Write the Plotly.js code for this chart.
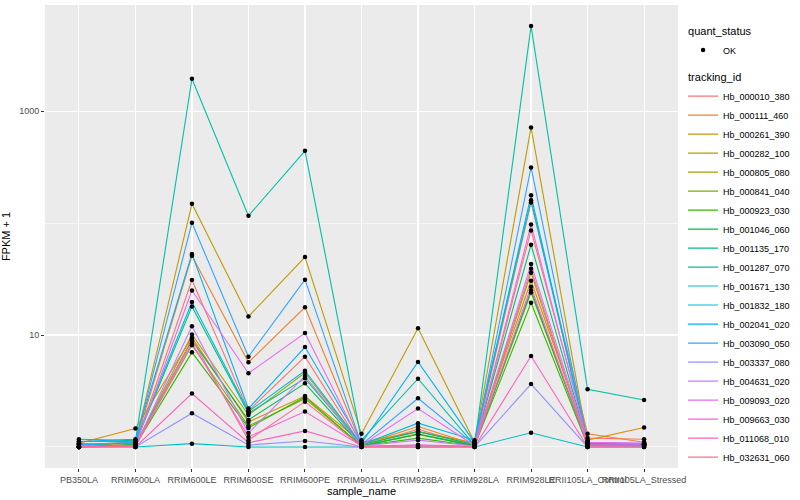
<!DOCTYPE html>
<html>
<head>
<meta charset="utf-8">
<script src="https://cdn.plot.ly/plotly-3.0.1.min.js"></script>
<style>html,body{margin:0;padding:0;background:#fff}#chart{width:800px;height:500px}</style>
</head>
<body>
<div id="chart"></div>
<script>
// sample order on the x axis
const samples = ["PB350LA","RRIM600LA","RRIM600LE","RRIM600SE","RRIM600PE","RRIM901LA","RRIM928BA","RRIM928LA","RRIM928LE","RRII105LA_Control","RRII105LA_Stressed"];

const trackingIds = ["Hb_000010_380","Hb_000111_460","Hb_000261_390","Hb_000282_100","Hb_000805_080","Hb_000841_040","Hb_000923_030","Hb_001046_060","Hb_001135_170","Hb_001287_070","Hb_001671_130","Hb_001832_180","Hb_002041_020","Hb_003090_050","Hb_003337_080","Hb_004631_020","Hb_009093_020","Hb_009663_030","Hb_011068_010","Hb_032631_060"];

const colors = ["#F8766D","#EA8331","#D89000","#C09B00","#A3A500","#7CAE00","#39B600","#00BB4E","#00BF7D","#00C1A3","#00BFC4","#00BAE0","#00B0F6","#35A2FF","#9590FF","#C77CFF","#E76BF3","#FA62DB","#FF62BC","#FF6C91"];

// FPKM + 1 per tracking_id, in sample order
const hb_000010_380 = [1.00, 1.05, 31.0, 2.10, 6.40, 1.02, 1.44, 1.02, 86.0, 1.20, 1.17];
const hb_000111_460 = [1.02, 1.08, 51.0, 5.70, 17.7, 1.05, 1.52, 1.05, 153, 1.31, 1.10];
const hb_000261_390 = [1.08, 1.46, 9.50, 1.67, 2.85, 1.10, 1.37, 1.09, 30.5, 1.15, 1.49];
const hb_000282_100 = [1.05, 1.10, 148.6, 14.6, 49.7, 1.31, 11.5, 1.10, 715, 1.10, 1.05];
const hb_000805_080 = [1.00, 1.05, 10.1, 1.93, 4.60, 1.03, 1.31, 1.03, 36.0, 1.05, 1.04];
const hb_000841_040 = [1.00, 1.04, 8.10, 1.54, 2.70, 1.02, 1.29, 1.02, 24.0, 1.04, 1.03];
const hb_000923_030 = [1.00, 1.03, 7.00, 1.48, 2.80, 1.02, 1.20, 1.02, 19.4, 1.03, 1.02];
const hb_001046_060 = [1.00, 1.05, 9.00, 1.74, 3.70, 1.02, 1.30, 1.03, 25.0, 1.05, 1.05];
const hb_001135_170 = [1.04, 1.09, 18.0, 2.00, 4.10, 1.05, 1.37, 1.05, 64.0, 1.08, 1.06];
const hb_001287_070 = [1.17, 1.14, 1945, 116, 442, 1.15, 4.07, 1.04, 5750, 3.27, 2.63];
const hb_001671_130 = [1.08, 1.00, 1.07, 1.00, 1.00, 1.00, 1.00, 1.00, 1.34, 1.00, 1.00];
const hb_001832_180 = [1.12, 1.12, 19.7, 2.07, 4.80, 1.05, 1.63, 1.15, 160, 1.10, 1.05];
const hb_002041_020 = [1.12, 1.17, 53.0, 2.20, 7.80, 1.08, 5.74, 1.10, 177, 1.08, 1.05];
const hb_003090_050 = [1.05, 1.10, 100.5, 6.40, 31.2, 1.05, 2.72, 1.05, 314, 1.10, 1.05];
const hb_003337_080 = [1.00, 1.00, 2.00, 1.04, 1.13, 1.00, 1.04, 1.00, 3.65, 1.00, 1.00];
const hb_004631_020 = [1.00, 1.02, 12.0, 1.33, 4.30, 1.02, 1.15, 1.02, 43.0, 1.10, 1.08];
const hb_009093_020 = [1.00, 1.03, 25.0, 4.55, 10.4, 1.03, 2.20, 1.03, 97.0, 1.10, 1.08];
const hb_009663_030 = [1.00, 1.02, 8.50, 1.23, 2.07, 1.02, 1.04, 1.02, 27.0, 1.05, 1.04];
const hb_011068_010 = [1.00, 1.00, 3.00, 1.09, 1.39, 1.00, 1.00, 1.00, 6.50, 1.00, 1.00];
const hb_032631_060 = [1.00, 1.01, 9.20, 1.15, 2.54, 1.01, 1.00, 1.01, 39.0, 1.02, 1.02];

const seriesValues = [hb_000010_380, hb_000111_460, hb_000261_390, hb_000282_100, hb_000805_080, hb_000841_040, hb_000923_030, hb_001046_060, hb_001135_170, hb_001287_070, hb_001671_130, hb_001832_180, hb_002041_020, hb_003090_050, hb_003337_080, hb_004631_020, hb_009093_020, hb_009663_030, hb_011068_010, hb_032631_060];

const yTickVals = [10, 1000];
const yTickText = ["10", "1000"];
const yMinorVals = [1, 100];

const traces = [];
trackingIds.forEach((id, i) => {
  traces.push({
    type: "scatter", mode: "lines", x: samples, y: seriesValues[i], name: id,
    line: {color: colors[i], width: 1.1},
    legendgroup: "tid",
    legendgrouptitle: {text: "tracking_id", font: {size: 11, color: "#000"}},
    legendrank: 100 + i, hoverinfo: "skip"
  });
});
const px = [], py = [];
seriesValues.forEach(vals => vals.forEach((v, j) => { px.push(samples[j]); py.push(v); }));
traces.push({
  type: "scatter", mode: "markers", x: px, y: py, name: "OK",
  marker: {color: "#000", size: 4.5},
  legendgroup: "qs",
  legendgrouptitle: {text: "quant_status", font: {size: 11, color: "#000"}},
  legendrank: 1, hoverinfo: "skip"
});

const layout = {
  width: 800, height: 500,
  margin: {l: 45, r: 116, t: 5, b: 32},
  paper_bgcolor: "#fff", plot_bgcolor: "#EBEBEB",
  font: {family: "Liberation Sans, Arial, sans-serif", size: 9, color: "#4D4D4D"},
  xaxis: {
    type: "category", categoryorder: "array", categoryarray: samples,
    range: [-0.6, 10.6], showgrid: true, gridcolor: "#fff", gridwidth: 1.1,
    ticks: "outside", ticklen: 3, tickcolor: "#333", tickwidth: 1, tickangle: 0,
    tickfont: {size: 9, color: "#4D4D4D"}, zeroline: false, showline: false,
    title: {text: "sample_name", font: {size: 11, color: "#000"}, standoff: 2}
  },
  yaxis: {
    type: "log", range: [-0.188, 3.948],
    tickmode: "array", tickvals: yTickVals, ticktext: yTickText,
    showgrid: true, gridcolor: "#fff", gridwidth: 1.1,
    minor: {tickmode: "array", tickvals: yMinorVals, showgrid: true, gridcolor: "#fff", gridwidth: 0.55, ticks: ""},
    ticks: "outside", ticklen: 3, tickcolor: "#333", tickwidth: 1,
    tickfont: {size: 9, color: "#4D4D4D"}, zeroline: false, showline: false,
    title: {text: "FPKM + 1", font: {size: 11, color: "#000"}, standoff: 6}
  },
  showlegend: true,
  legend: {
    x: 1.008, xanchor: "left", y: 0.975, yanchor: "top",
    font: {size: 9, color: "#000"}, traceorder: "grouped", tracegroupgap: 8,
    bgcolor: "rgba(0,0,0,0)", itemwidth: 30
  }
};

Plotly.newPlot("chart", traces, layout, {staticPlot: true, displayModeBar: false});
</script>
</body>
</html>
